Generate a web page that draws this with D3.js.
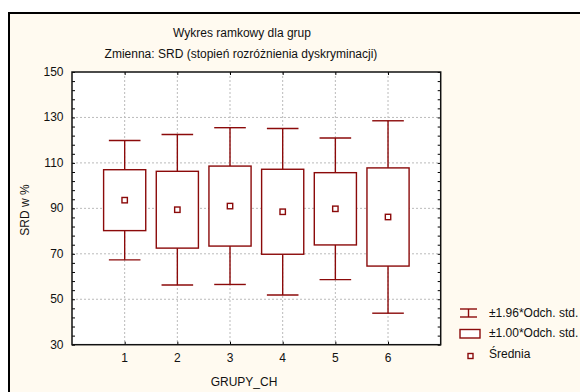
<!DOCTYPE html>
<html lang="pl">
<head>
<meta charset="UTF-8">
<title>Wykres ramkowy</title>
<script src="https://cdn.jsdelivr.net/npm/d3@7"></script>
<style>
  body { margin: 0; background: #fff; }
  text { font-family: "Liberation Sans", Arial, sans-serif; font-size: 12px; fill: #111; }
  .grid line { stroke: #bbb; stroke-width: 1; stroke-dasharray: 2,2; }
  .box { fill: none; stroke: #8b0a0a; stroke-width: 1.4; }
</style>
</head>
<body>
<div id="chart"></div>
<script>
// data
var groups = [1, 2, 3, 4, 5, 6];
var means = [93.6, 89.4, 91.0, 88.5, 89.8, 86.2];
var sds = [13.4, 16.9, 17.6, 18.7, 15.9, 21.6];
var yTicks = [30, 50, 70, 90, 110, 130, 150];
var legendLabels = ["\u00b11.96*Odch. std.", "\u00b11.00*Odch. std.", "\u015arednia"];

var width = 580, height = 392;
var plotL = 72, plotT = 72, plotR = 440.7, plotB = 344.7;

var svg = d3.select("#chart").append("svg")
  .attr("width", width)
  .attr("height", height);

// outer frame
svg.append("rect")
  .attr("x", 9).attr("y", 13)
  .attr("width", 600).attr("height", 420)
  .attr("fill", "#fffaf0")
  .attr("stroke", "#000")
  .attr("stroke-width", 2);

var x = d3.scaleLinear().domain([0, 7]).range([plotL, plotR]);
var y = d3.scaleLinear().domain([30, 150]).range([plotB, plotT]);

// plot background
svg.append("rect")
  .attr("x", plotL).attr("y", plotT)
  .attr("width", plotR - plotL).attr("height", plotB - plotT)
  .attr("fill", "#fff");

// grid
var grid = svg.append("g").attr("class", "grid");
grid.selectAll("line.h")
  .data(yTicks.filter(function (d) { return d > 30 && d < 150; }))
  .enter().append("line")
  .attr("x1", plotL).attr("x2", plotR)
  .attr("y1", y).attr("y2", y);
grid.selectAll("line.v")
  .data(groups)
  .enter().append("line")
  .attr("x1", x).attr("x2", x)
  .attr("y1", plotT).attr("y2", plotB);

// axes: ticks pointing inward
var minor = d3.range(30, 151, 4);
svg.append("g")
  .attr("transform", "translate(" + plotL + ",0)")
  .call(d3.axisRight(y).tickValues(minor).tickSize(3).tickFormat(""))
  .call(function (g) { g.select(".domain").remove(); });
svg.append("g")
  .attr("transform", "translate(" + plotR + ",0)")
  .call(d3.axisLeft(y).tickValues(minor).tickSize(3).tickFormat(""))
  .call(function (g) { g.select(".domain").remove(); });
svg.append("g")
  .attr("transform", "translate(0," + plotB + ")")
  .call(d3.axisTop(x).tickValues(groups).tickSize(3).tickFormat(""))
  .call(function (g) { g.select(".domain").remove(); });
svg.append("g")
  .attr("transform", "translate(0," + plotT + ")")
  .call(d3.axisBottom(x).tickValues(groups).tickSize(3).tickFormat(""))
  .call(function (g) { g.select(".domain").remove(); });

// y labels
svg.selectAll("text.yl")
  .data(yTicks)
  .enter().append("text")
  .attr("x", 63.5)
  .attr("y", function (d) { return y(d) + 4; })
  .attr("text-anchor", "end")
  .text(function (d) { return d; });

// x labels
svg.selectAll("text.xl")
  .data(groups)
  .enter().append("text")
  .attr("x", x)
  .attr("y", 362)
  .attr("text-anchor", "middle")
  .text(function (d) { return d; });

// plot border
svg.append("rect")
  .attr("x", plotL).attr("y", plotT)
  .attr("width", plotR - plotL).attr("height", plotB - plotT)
  .attr("fill", "none")
  .attr("stroke", "#111")
  .attr("stroke-width", 1.5);

// boxes
var bw = 0.8, cw = 0.6;
var g = svg.append("g").attr("class", "box");
groups.forEach(function (d, i) {
  var m = means[i], s = sds[i];
  var cx = x(d);
  var half = (x(bw) - x(0)) / 2, cap = (x(cw) - x(0)) / 2;
  // whiskers
  g.append("line").attr("x1", cx).attr("x2", cx)
    .attr("y1", y(m + 1.96 * s)).attr("y2", y(m + s));
  g.append("line").attr("x1", cx).attr("x2", cx)
    .attr("y1", y(m - s)).attr("y2", y(m - 1.96 * s));
  g.append("line").attr("x1", cx - cap).attr("x2", cx + cap)
    .attr("y1", y(m + 1.96 * s)).attr("y2", y(m + 1.96 * s));
  g.append("line").attr("x1", cx - cap).attr("x2", cx + cap)
    .attr("y1", y(m - 1.96 * s)).attr("y2", y(m - 1.96 * s));
  // box
  g.append("rect")
    .attr("x", cx - half).attr("y", y(m + s))
    .attr("width", 2 * half).attr("height", y(m - s) - y(m + s))
    .attr("fill", "#fff");
  // mean
  g.append("rect")
    .attr("x", cx - 2.7).attr("y", y(m) - 2.7)
    .attr("width", 5.4).attr("height", 5.4)
    .attr("fill", "#fff");
});

// titles
svg.append("text").attr("x", 242).attr("y", 37)
  .attr("text-anchor", "middle").text("Wykres ramkowy dla grup");
svg.append("text").attr("x", 241).attr("y", 58)
  .attr("text-anchor", "middle").text("Zmienna: SRD (stopie\u0144 rozr\u00f3\u017cnienia dyskryminacji)");

svg.append("text")
  .attr("transform", "translate(29,210) rotate(-90)")
  .attr("text-anchor", "middle")
  .text("SRD w %");
svg.append("text").attr("x", 244).attr("y", 386)
  .attr("text-anchor", "middle").text("GRUPY_CH");

// legend
var lg = svg.append("g").attr("class", "box");
lg.append("line").attr("x1", 460).attr("x2", 477).attr("y1", 309).attr("y2", 309);
lg.append("line").attr("x1", 460).attr("x2", 477).attr("y1", 317).attr("y2", 317);
lg.append("line").attr("x1", 468.5).attr("x2", 468.5).attr("y1", 309).attr("y2", 317);
lg.append("rect").attr("x", 460).attr("y", 329.5).attr("width", 20).attr("height", 8.5).attr("fill", "#fff");
lg.append("rect").attr("x", 468).attr("y", 353.5).attr("width", 5).attr("height", 5).attr("fill", "#fff");

svg.selectAll("text.lg")
  .data(legendLabels)
  .enter().append("text")
  .attr("x", 489)
  .attr("y", function (d, i) { return [317, 337, 358][i]; })
  .text(function (d) { return d; });
</script>
</body>
</html>
